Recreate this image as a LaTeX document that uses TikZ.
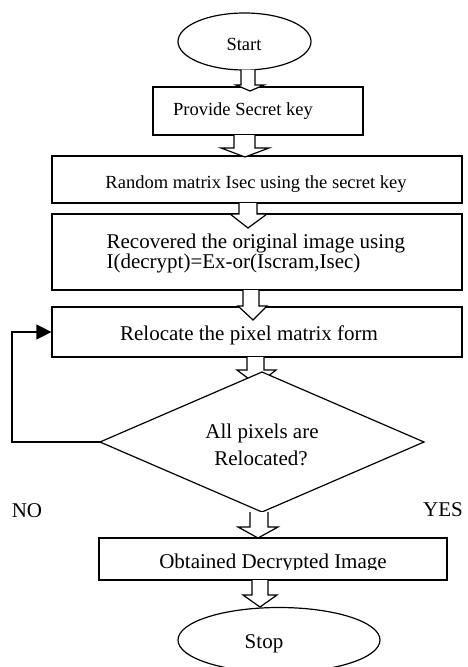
\documentclass[tikz,border=0pt]{standalone}
\usepackage{fontspec}
\setmainfont{Liberation Serif}
\usetikzlibrary{shapes.geometric,arrows.meta}
\newcommand\harw[8]{%
  \draw[fill=white,line join=miter] (#1,#3) -- (#1,#4) -- (#5,#4) -- (#7,#8) -- (#6,#4) -- (#2,#4) -- (#2,#3);}
\tikzset{
  box/.style={draw,rectangle,inner sep=0pt},
  oval/.style={draw,ellipse,inner sep=0pt},
  small/.style={font=\fontsize{18.5}{20}\selectfont,inner sep=0pt},
  big/.style={font=\fontsize{21}{23}\selectfont,inner sep=0pt},
}
\begin{document}
\begin{tikzpicture}[x=1pt,y=-1pt,line width=1.2pt]
\useasboundingbox (0,0) rectangle (467,667);
\begin{scope}
\clip (0,0) rectangle (467,667);
% shapes
\node[oval,minimum width=133,minimum height=57] (start) at (244.5,41.5) {};
\node[box,minimum width=210,minimum height=48] (provide) at (258,111) {};
\node[box,minimum width=410,minimum height=47] (random) at (257,179.5) {};
\node[box,minimum width=410,minimum height=76] (recov) at (257,252) {};
\node[box,minimum width=410,minimum height=50] (reloc) at (257,332) {};
\node[box,minimum width=348,minimum height=42] (obt) at (273,559) {};
\node[oval,minimum width=202,minimum height=65] (stop) at (279,640) {};
% hollow arrows
\harw{241}{255}{69.5}{85}{236}{264}{250}{91}
\harw{234}{255}{135}{148}{221}{269}{245}{157}
\harw{239}{257}{203}{214}{230}{267}{248}{228}
\harw{243}{259}{290}{306}{238}{267}{253}{320}
\harw{247}{264}{357}{370}{237}{276}{257}{385}
% decision
\draw[fill=white,line join=miter] (262,372) coordinate (dtop) -- (424,442) coordinate (dright)
  -- (262,512) coordinate (dbot) -- (100,442) coordinate (dleft) -- cycle;
\harw{250}{268}{512}{527}{238}{278}{258}{538}
\harw{252}{268}{580}{595}{243}{277}{260}{607}
% feedback loop
\draw[-{Triangle[length=15pt,width=15pt]}] (dleft) -- (12,442) coordinate (lc) |- (reloc.west);
% texts
\node[small,anchor=base] (tstart) at (244,50) {Start};
\node[small,anchor=base] (tprov) at (243,115) {Provide Secret key};
\node[small,anchor=base] (trand) at (256,188) {Random matrix Isec using the secret key};
\node[big,anchor=base west] (trec1) at (106,248) {Recovered the original image using};
\node[big,anchor=base west] (trec2) at (106,268) {I(decrypt)=Ex-or(Iscram,Isec)};
\node[big,anchor=base] (treloc) at (249,340) {Relocate the pixel matrix form};
\node[big,anchor=base] (td1) at (262,438) {All pixels are};
\node[big,anchor=base] (td2) at (261,465) {Relocated?};
\node[big,anchor=base] (tno) at (27,517) {NO};
\node[big,anchor=base] (tyes) at (443,516) {YES};
\begin{scope}
\clip (100,540) rectangle (446,569);
\node[big,anchor=base] (tobt) at (273,568) {Obtained Decrypted Image};
\end{scope}
\node[big,anchor=base] (tstop) at (264,648) {Stop};
\end{scope}
\end{tikzpicture}
\end{document}
